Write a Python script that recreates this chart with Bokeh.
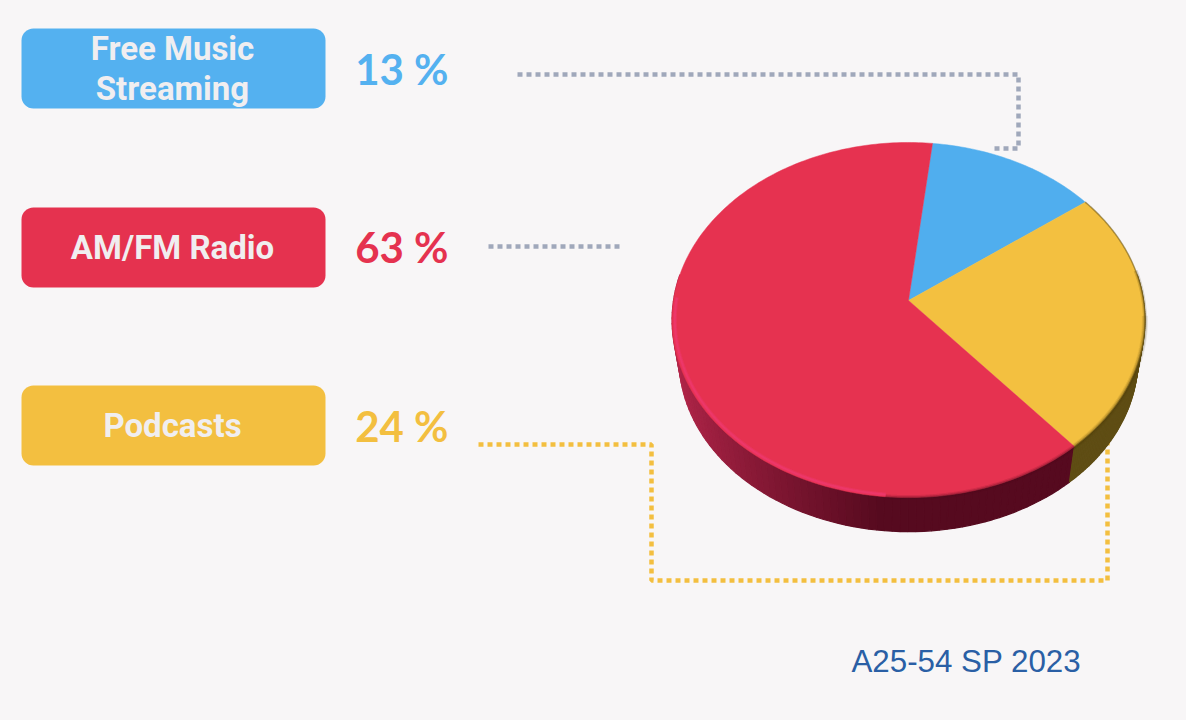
import numpy as np
from bokeh.plotting import figure
from bokeh.models import Range1d
from bokeh.core.properties import value
from bokeh.embed import file_html
from bokeh.resources import INLINE

categories = ["Free Music\nStreaming", "AM/FM Radio", "Podcasts"]
shares = [13, 63, 24]
share_labels = ["13 %", "63 %", "24 %"]
footer = "A25-54 SP 2023"

BG = "#f8f6f7"
BLUE, RED, YELLOW = "#54b1f0", "#e5324f", "#f3bf40"
box_cols = [BLUE, RED, YELLOW]
top_cols = ["#50aeee", "#e63250", "#f3c040"]
GREY = "#a0a8bb"

p = figure(width=1186, height=720, output_backend="svg", toolbar_location=None,
           x_range=Range1d(0, 1186), y_range=Range1d(720, 0),
           background_fill_color=BG, border_fill_color=BG, min_border=0,
           outline_line_color=None)
p.axis.visible = False
p.grid.visible = False

box_top = [28, 207, 385]
p.quad(left=[21]*3, right=[325]*3, top=box_top, bottom=[t+80 for t in box_top],
       fill_color=box_cols, line_color=None, border_radius=12)

NARROW = value("Roboto")
def label(x, y, t, size, col, font=NARROW, style="bold", align="center"):
    p.text([x], [y], text=[t], text_font=font, text_font_size=f"{size}px", text_color=col,
           text_font_style=style, text_align=align, text_baseline="middle")
label(172, 48, "Free Music", 33, "#f0eef0")
label(172, 88, "Streaming", 33, "#f0eef0")
label(172, 247, categories[1], 33, "#f0eef0")
label(172, 425, categories[2], 33, "#f0eef0")
pct_y = [68, 246, 425]
for t, y, c in zip(share_labels, pct_y, box_cols):
    label(448, y, t, 42, c, value("Lato"), "bold", "right")
label(851, 661, footer, 31.3, "#2a5fa5", value("Liberation Sans"), "normal", "left")

p.line([517, 1018, 1018, 994], [74, 74, 148, 148], line_color=GREY, line_width=4.5, line_dash="5 4")
p.line([488, 620], [246, 246], line_color=GREY, line_width=4.5, line_dash="5 4")
p.line([478, 651, 651, 1107, 1107], [444, 444, 580, 580, 438], line_color=YELLOW, line_width=4.5, line_dash="5 4")

CX, CY, A, C, K, DEPTH, SHRINK = 908.0, 300.0, 235.0, 175.4, 0.11, 40.0, 0.97
def proj(t):
    s, co = np.sin(t), np.cos(t)
    d = 1 + K * s
    return CX + A * co / d, CY - C * s / d
def lower(x, y):
    return CX + SHRINK * (x - CX), CY + SHRINK * (y - CY) + DEPTH

def hexmix(c1, c2, f):
    a = [int(c1[i:i+2], 16) for i in (1, 3, 5)]
    b = [int(c2[i:i+2], 16) for i in (1, 3, 5)]
    return "#%02x%02x%02x" % tuple(int(round(u + (v - u) * f)) for u, v in zip(a, b))

start = np.radians(83.5)
order = [0, 2, 1]  # clockwise from the top: blue, yellow, red
fr = np.cumsum([0] + [shares[i] for i in order]) / sum(shares)
bounds = start - 2 * np.pi * fr
slices = {order[i]: (bounds[i], bounds[i + 1]) for i in range(3)}

for idx, c_lo, c_hi in ((1, "#b4264a", "#560a1f"), (2, "#5f4d14", "#5f4d14")):
    t0, t1 = slices[idx]
    ts = np.linspace(t0, t1, 130)
    for a, b in zip(ts[:-1], ts[1:]):
        if np.sin((a + b) / 2) > 0.15:
            continue
        x0, y0 = proj(a); x1, y1 = proj(b)
        lx0, ly0 = lower(x0, y0); lx1, ly1 = lower(x1, y1)
        f = np.clip(((x0 + x1) / 2 - 671) / (880 - 671), 0, 1) ** 0.8
        col = hexmix(c_lo, c_hi, f)
        p.patch([x0, x1, lx1, lx0], [y0, y1, ly1, ly0], fill_color=col, line_color=col, line_width=1.2)

for idx in order:
    t0, t1 = slices[idx]
    n = max(int(abs(t1 - t0) * 60), 8)
    xs, ys = proj(np.linspace(t0, t1, n))
    p.patch(np.r_[CX, xs], np.r_[CY, ys], fill_color=top_cols[idx], line_color=top_cols[idx], line_width=0.5)

t0, t1 = slices[2]
for a0, w, al in ((np.radians(-5), 6, .10), (np.radians(10), 4, .18), (t0, 1.5, .45)):
    xs, ys = proj(np.linspace(a0, t1, 200))
    p.line(xs, ys, line_color="#4a3a08", line_width=w, line_alpha=al)
t0, t1 = slices[1]
xs, ys = proj(np.linspace(t0, np.radians(-95), 240))
for w, al in ((5, .12), (2.5, .25)):
    p.line(xs, ys, line_color="#4a0a1c", line_width=w, line_alpha=al)
xs, ys = proj(np.linspace(np.radians(-95), np.radians(-181), 200))
sc = 0.988
p.line(CX + (xs - CX) * sc, CY + (ys - CY) * sc, line_color="#f03a75", line_width=4, line_alpha=.35)
p.line(CX + (xs - CX) * sc, CY + (ys - CY) * sc, line_color="#f03a75", line_width=2, line_alpha=.5)

html = file_html(p, INLINE).replace("<body>", f'<body style="background:{BG}">')
open("out.html", "w").write(html)
